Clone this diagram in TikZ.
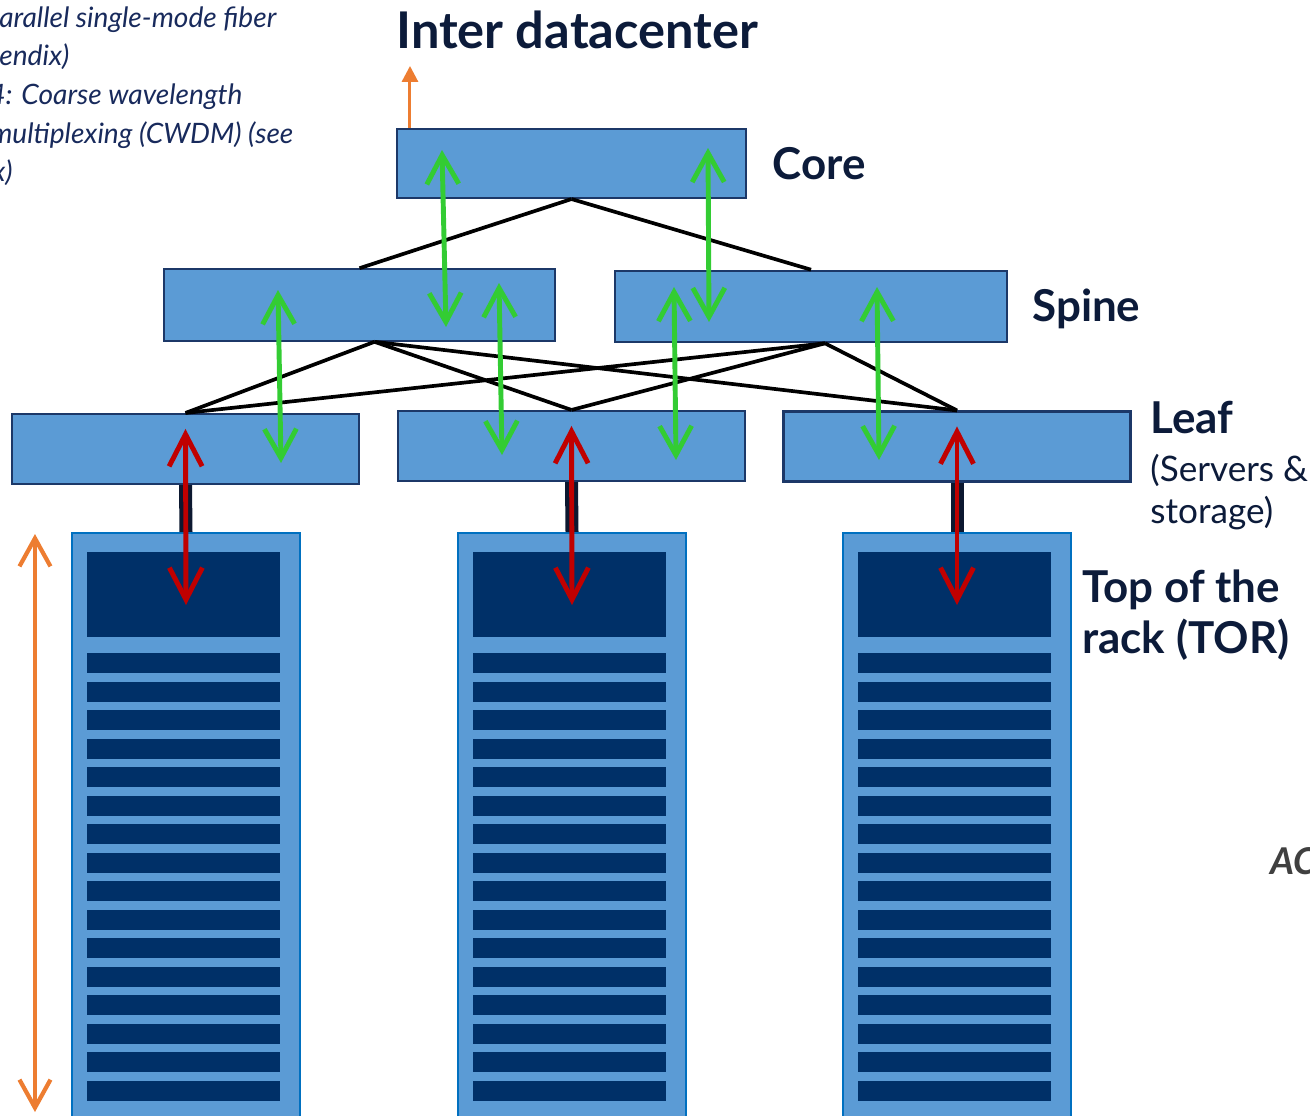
\documentclass[tikz,border=0pt]{standalone}
\usepackage{fontspec}
\setmainfont{Lato}
\usetikzlibrary{arrows.meta,calc}

\definecolor{boxblue}{RGB}{91,155,213}
\definecolor{boxedge}{RGB}{28,56,104}
\definecolor{rackedge}{RGB}{0,112,192}
\definecolor{serverblue}{RGB}{0,48,104}
\definecolor{barnavy}{RGB}{12,24,48}
\definecolor{labelnavy}{RGB}{12,27,58}
\definecolor{notenavy}{RGB}{24,42,92}
\definecolor{linkgreen}{RGB}{51,204,51}
\definecolor{linkred}{RGB}{192,0,0}
\definecolor{wanorange}{RGB}{237,125,49}
\definecolor{acgray}{RGB}{64,64,64}

\begin{document}
\begin{tikzpicture}[x=0.02cm,y=-0.02cm]
    \tikzstyle{switch}=[rectangle,draw=boxedge,fill=boxblue,line width=1.2pt,inner sep=0pt]
    \tikzstyle{core switch}=[switch,minimum width=6.98cm,minimum height=1.38cm]
    \tikzstyle{spine switch}=[switch,minimum width=7.83cm,minimum height=1.43cm]
    \tikzstyle{leaf switch}=[switch,minimum width=6.94cm,minimum height=1.40cm]
    \tikzstyle{rack}=[rectangle,draw=rackedge,fill=boxblue,line width=1.2pt,inner sep=0pt,
        minimum width=4.56cm,minimum height=12.8cm,anchor=north]
    \tikzstyle{server}=[fill=serverblue]
    \tikzstyle{link}=[draw=black,line width=2.1pt]
    \tikzstyle{uplink}=[draw=barnavy,line width=7.4pt]
    \tikzstyle{green arrow}=[draw=linkgreen,line width=2.8pt,
        >={Straight Barb[length=0.58cm,width=0.64cm]},<->]
    \tikzstyle{red arrow}=[draw=linkred,line width=2.8pt,
        >={Straight Barb[length=0.64cm,width=0.66cm]},<->]
    \tikzstyle{height arrow}=[draw=wanorange,line width=2.4pt,
        >={Straight Barb[length=0.56cm,width=0.62cm]},<->]
    \tikzstyle{wan arrow}=[draw=wanorange,line width=1.7pt,-{Triangle[length=0.32cm,width=0.32cm]}]
    \tikzstyle{tier}=[text=labelnavy,font=\bfseries\fontsize{25}{29}\selectfont,anchor=base west,inner sep=0pt]
    \tikzstyle{sub}=[text=labelnavy,font=\fontsize{20}{24}\selectfont,anchor=base west,inner sep=0pt]
    \tikzstyle{note}=[text=notenavy,font=\itshape\fontsize{16}{20}\selectfont,anchor=base west,inner sep=0pt]

    \useasboundingbox (0,0) rectangle (1310,1115);

    % Draw the switch layers
    \node[core switch] (C) at (571.5,163.5) {};
    \foreach \name/\x/\y in {1/359.5/305,2/811/306.5}
        \node[spine switch] (S-\name) at (\x,\y) {};
    \foreach \name/\x/\y in {1/185.5/449,2/571.5/446,3/957/446.5}
        \node[leaf switch] (L-\name) at (\x,\y) {};

    % Draw the racks with their servers
    \foreach \name/\x in {1/186,2/572,3/957} {
        \node[rack] (T-\name) at (\x,532) {};
        \fill[server] ($(T-\name.north)+(-99,20)$) rectangle ++(193,85);
        \foreach \k in {0,...,15}
            \fill[server] ($(T-\name.north)+(-99,121+28.5*\k)$) rectangle ++(193,20);
    }

    % Connect core to spine, and every spine to every leaf
    \draw[link] (C.south) -- (S-1.north);
    \draw[link] (C.south) -- (S-2.north);
    \foreach \dest in {1,2,3} {
        \draw[link] ($(S-1.south)+(15,0)$) -- (L-\dest.north);
        \draw[link] ($(S-2.south)+(14,0)$) -- (L-\dest.north);
    }

    % Leaf to top of the rack
    \foreach \name in {1,2,3} {
        \draw[uplink] (L-\name.south) -- (T-\name.north);
        \draw[red arrow] ($(L-\name.north)+(0,16)$) -- ($(T-\name.north)+(0,73)$);
    }

    % Traffic between the layers
    \foreach \a/\ax/\ay/\b/\bx/\by in {C/-129.5/-13.5/S-1/86.5/22, C/136.5/-15.5/S-2/-102/15.5,
            S-1/-81.5/-15/L-1/95.5/14, S-1/139.5/-22/L-2/-69.5/9,
            S-2/-137/-19.5/L-2/104.5/14, S-2/66/-19.5/L-3/-78/13.5}
        \draw[green arrow] ($(\a)+(\ax,\ay)$) -- ($(\b)+(\bx,\by)$);

    % Way out, and rack height
    \coordinate (wan) at ($(C.north west)+(14,-62)$);
    \draw[wan arrow] ($(C.north west)+(14,0)$) -- (wan);
    \coordinate (h-top) at ($(T-1.north west)+(-36,2)$);
    \coordinate (h-bot) at ($(T-1.north west)+(-36,580)$);
    \draw[height arrow] (h-top) -- (h-bot);

    % Annotate the layers
    \node[tier,font=\bfseries\fontsize{28.8}{32}\selectfont] (inter) at (396,49) {Inter datacenter};
    \node[tier] (core) at (772,179) {Core};
    \node[tier] (spine) at (1032,321) {Spine};
    \node[tier] (leaf) at (1150,433) {Leaf};
    \node[sub] (servers) at (1150,481) {(Servers \&};
    \node[sub] (storage) at (1150,523) {storage)};
    \node[tier] (tor-1) at (1082,602) {Top of the};
    \node[tier] (tor-2) at (1082,653) {rack (TOR)};

    % Cut-off text at the edges
    \node[note] (n-1) at (-1,28) {arallel single-mode fiber};
    \node[note] (n-2) at (-1,66) {endix)};
    \node[note] (n-3) at (-11,105) {4: Coarse wavelength};
    \node[note] (n-4) at (-10,143) {multiplexing (CWDM) (see};
    \node[note] (n-5) at (-8,181) {x)};
    \node[anchor=base west,inner sep=0pt,text=acgray,font=\bfseries\itshape\fontsize{21}{24}\selectfont] (ac) at (1270,874) {AC};
\end{tikzpicture}
\end{document}
